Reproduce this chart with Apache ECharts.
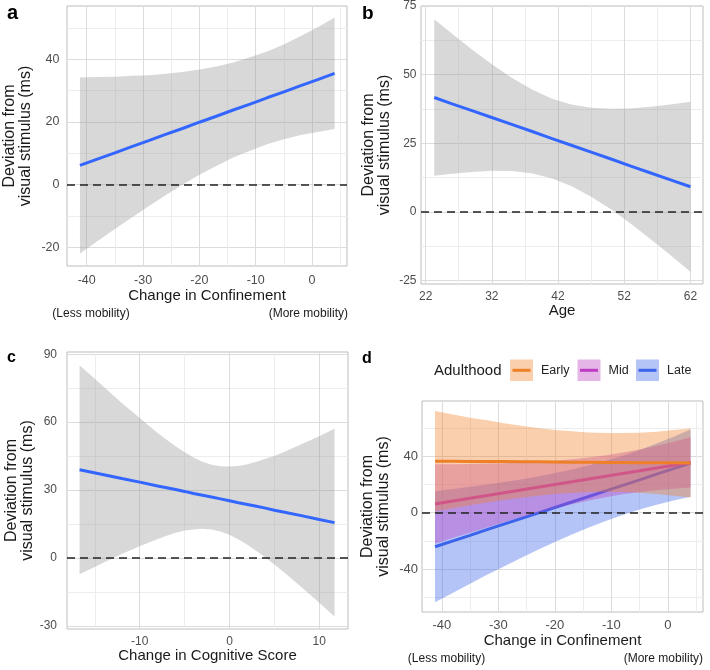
<!DOCTYPE html>
<html><head><meta charset="utf-8">
<script src="https://cdn.jsdelivr.net/npm/echarts@6/dist/echarts.min.js"></script>
<style>html,body{margin:0;padding:0;background:#fff}#c{width:710px;height:670px}</style>
</head><body><div id="c"></div>
<script>
// ---------- Panel a : Change in Confinement ----------
const aX      = [-41.2,-38,-35,-32,-29,-26,-23,-20,-17,-14,-11,-8,-5,-2,1,4];
const aFit    = [6.1,8.2,10.1,12.1,14.0,16.0,17.9,19.9,21.8,23.8,25.7,27.7,29.6,31.6,33.5,35.5];
const aUpper  = [34.2,34.3,34.4,34.7,34.9,35.4,35.9,36.7,37.7,39.0,40.6,42.5,44.7,47.4,50.2,53.3];
const aLower  = [-22.0,-17.9,-14.2,-10.5,-6.9,-3.4,-0.1,3.1,5.9,8.6,10.8,12.9,14.5,15.8,16.8,17.7];
const aXTicks = [-40,-30,-20,-10,0];
const aXMinor = [-35,-25,-15,-5,5];
const aYTicks = [-20,0,20,40];
const aYMinor = [-10,10,30,50];

// ---------- Panel b : Age ----------
const bX      = [23.3,26,29,32,35,38,41,44,47,50,53,56,59,62];
const bFit    = [41.7,39.4,36.9,34.4,31.9,29.4,26.8,24.3,21.8,19.3,16.7,14.2,11.7,9.2];
const bUpper  = [70.2,64.9,59.2,53.8,48.9,44.7,41.3,39.1,38.0,37.6,37.7,38.3,39.1,40.1];
const bLower  = [13.2,13.9,14.6,15.0,14.9,14.1,12.3,9.5,5.6,1.0,-4.3,-9.9,-15.7,-21.7];
const bXTicks = [22,32,42,52,62];
const bXMinor = [27,37,47,57];
const bYTicks = [-25,0,25,50,75];
const bYMinor = [-12.5,12.5,37.5,62.5];

// ---------- Panel c : Change in Cognitive Score ----------
const cX      = [-16.7,-14,-12,-10,-8,-7,-6,-5,-4,-3,-2,-1,0,1,2,3,4,5,6,8,10,11.7];
const cFit    = [39.0,36.8,35.1,33.5,31.8,31.0,30.2,29.4,28.5,27.7,26.9,26.1,25.3,24.4,23.6,22.8,22.0,21.1,20.3,18.7,17.0,15.6];
const cUpper  = [85.2,75.6,68.5,61.8,55.2,52.2,49.3,46.7,44.4,42.5,41.2,40.5,40.4,40.6,41.4,42.5,43.8,45.1,46.7,50.2,53.8,57.1];
const cLower  = [-7.2,-2.0,1.7,5.2,8.4,9.8,11.1,12.1,12.6,12.9,12.6,11.7,10.2,8.2,5.8,3.1,0.2,-2.9,-6.1,-12.8,-19.8,-25.9];
const cXTicks = [-10,0,10];
const cXMinor = [-15,-5,5];
const cYTicks = [-30,0,30,60,90];
const cYMinor = [-15,15,45,75];

// ---------- Panel d : by adulthood group ----------
const dX         = [-41.2,-38,-35,-32,-29,-26,-23,-20,-17,-14,-11,-8,-5,-2,1,4];
const earlyFit   = [36.4,36.3,36.2,36.2,36.1,36.0,35.9,35.8,35.7,35.6,35.5,35.4,35.3,35.2,35.2,35.1];
const earlyUpper = [71.9,69.5,67.2,65.3,63.3,61.5,59.9,58.5,57.5,56.7,56.3,56.3,56.6,57.3,58.4,59.6];
const earlyLower = [0.9,3.1,5.2,7.1,8.9,10.5,11.9,13.1,13.9,14.5,14.7,14.5,14.0,13.1,12.0,10.6];
const midFit     = [6.1,8.2,10.1,12.1,14.0,16.0,17.9,19.9,21.8,23.8,25.7,27.7,29.6,31.6,33.5,35.5];
const midUpper   = [34.2,34.3,34.4,34.7,34.9,35.4,35.9,36.7,37.7,39.0,40.6,42.5,44.7,47.4,50.2,53.3];
const midLower   = [-22.0,-17.9,-14.2,-10.5,-6.9,-3.4,-0.1,3.1,5.9,8.6,10.8,12.9,14.5,15.8,16.8,17.7];
const lateFit    = [-24.2,-20.0,-16.1,-12.1,-8.2,-4.3,-0.4,3.6,7.5,11.4,15.4,19.3,23.2,27.2,31.1,35.0];
const lateUpper  = [15.1,16.7,18.2,19.9,21.7,23.5,25.6,28.0,30.5,33.4,36.7,40.3,44.3,48.9,53.7,58.8];
const lateLower  = [-63.5,-56.7,-50.4,-44.1,-38.1,-32.1,-26.4,-20.8,-15.5,-10.6,-5.9,-1.7,2.1,5.5,8.5,11.2];
const dXTicks = [-40,-30,-20,-10,0];
const dXMinor = [-35,-25,-15,-5,5];
const dYTicks = [-40,0,40];
const dYMinor = [-60,-20,20,60];
const groupNames = ['Early','Mid','Late'];

const FONT = '"Liberation Sans", Arial, Helvetica, sans-serif';
const YTITLE = 'Deviation from\nvisual stimulus (ms)';
const BLUE = '#3366FF';
const GREY_FILL = 'rgba(153,153,153,0.38)';
const COL = {
  Early: {line:'#EE8028', fill:'rgba(238,128,40,0.38)'},
  Mid:   {line:'#BE3CC3', fill:'rgba(190,60,195,0.38)'},
  Late:  {line:'#3C64EB', fill:'rgba(60,100,235,0.38)'}
};

const grids = [], xAxes = [], yAxes = [], series = [];

function addPanel(g, p) {
  grids.push({left:p.left, top:p.top, width:p.width, height:p.height, show:true,
    borderColor:'#bdbdbd', borderWidth:1, backgroundColor:'transparent',
    containLabel:false, outerBoundsMode:'none'});
  xAxes.push({type:'value', gridIndex:g, min:p.xMin, max:p.xMax,
    axisLine:{show:false}, axisTick:{show:false, customValues:p.xTicks},
    axisLabel:{customValues:p.xTicks, color:'#4d4d4d', fontSize:p.tickFs, margin:p.xMargin, fontFamily:FONT},
    splitLine:{show:true, lineStyle:{color:'#dcdcdc', width:1}},
    name:p.xName, nameLocation:'middle', nameGap:p.xGap,
    nameTextStyle:{fontSize:15, color:'#1a1a1a', fontFamily:FONT}});
  xAxes.push({type:'value', gridIndex:g, min:p.xMin, max:p.xMax, position:'bottom',
    axisLine:{show:false}, axisTick:{show:false, customValues:p.xMinor},
    axisLabel:{show:false, customValues:p.xMinor},
    splitLine:{show:true, lineStyle:{color:'#ededed', width:1}}});
  yAxes.push({type:'value', gridIndex:g, min:p.yMin, max:p.yMax,
    axisLine:{show:false}, axisTick:{show:false, customValues:p.yTicks},
    axisLabel:{customValues:p.yTicks, color:'#4d4d4d', fontSize:p.tickFs, margin:p.yMargin, fontFamily:FONT},
    splitLine:{show:true, lineStyle:{color:'#dcdcdc', width:1}},
    name:YTITLE, nameLocation:'middle', nameGap:p.yGap,
    nameTextStyle:{fontSize:16, lineHeight:16, color:'#1a1a1a', fontFamily:FONT}});
  yAxes.push({type:'value', gridIndex:g, min:p.yMin, max:p.yMax, position:'left',
    axisLine:{show:false}, axisTick:{show:false, customValues:p.yMinor},
    axisLabel:{show:false, customValues:p.yMinor},
    splitLine:{show:true, lineStyle:{color:'#ededed', width:1}}});
}

function ribbon(g, xs, lo, hi, fill, z) {
  return {
    type:'custom', xAxisIndex:g*2, yAxisIndex:g*2, silent:true, z:z,
    data: xs.map((x,i)=>[x, lo[i], hi[i]]),
    encode:{x:0, y:[1,2]},
    renderItem: function(params, api) {
      if (params.dataIndex !== 0) return null;
      const pts = [];
      for (let i=0;i<xs.length;i++) pts.push(api.coord([xs[i], hi[i]]));
      for (let i=xs.length-1;i>=0;i--) pts.push(api.coord([xs[i], lo[i]]));
      return {type:'polygon', shape:{points:pts}, style:{fill:fill}};
    }
  };
}
function fitLine(g, xs, ys, color, withZero, z) {
  const s = {type:'line', xAxisIndex:g*2, yAxisIndex:g*2, silent:true, z:z,
    data: xs.map((x,i)=>[x, ys[i]]), symbol:'none', showSymbol:false,
    lineStyle:{color:color, width:3}};
  if (withZero) {
    s.markLine = {silent:true, z:20, symbol:['none','none'], label:{show:false},
      lineStyle:{color:'#222', width:1.6, type:[8,5]}, data:[{yAxis:0}], animation:false};
  }
  return s;
}

addPanel(0, {left:67, top:6, width:280, height:260, xMin:-43.5, xMax:6.2, yMin:-26, yMax:57,
  xTicks:aXTicks, xMinor:aXMinor, yTicks:aYTicks, yMinor:aYMinor, tickFs:12.5, xMargin:8, yMargin:7.5,
  xName:'Change in Confinement', xGap:20, yGap:33});
addPanel(1, {left:421, top:6, width:282, height:278, xMin:21.3, xMax:63.9, yMin:-26.2, yMax:75,
  xTicks:bXTicks, xMinor:bXMinor, yTicks:bYTicks, yMinor:bYMinor, tickFs:12, xMargin:6.5, yMargin:4.5,
  xName:'Age', xGap:19.5, yGap:28});
addPanel(2, {left:67, top:352, width:281, height:277, xMin:-18.1, xMax:13.2, yMin:-31.4, yMax:91,
  xTicks:cXTicks, xMinor:cXMinor, yTicks:cYTicks, yMinor:cYMinor, tickFs:12, xMargin:6.5, yMargin:10,
  xName:'Change in Cognitive Score', xGap:19, yGap:29});
addPanel(3, {left:422, top:401, width:281, height:211, xMin:-43.5, xMax:6.2, yMin:-70.4, yMax:79,
  xTicks:dXTicks, xMinor:dXMinor, yTicks:dYTicks, yMinor:dYMinor, tickFs:13, xMargin:7, yMargin:4,
  xName:'Change in Confinement', xGap:20, yGap:30.5});

series.push(ribbon(0, aX, aLower, aUpper, GREY_FILL, 2), fitLine(0, aX, aFit, BLUE, true, 3));
series.push(ribbon(1, bX, bLower, bUpper, GREY_FILL, 2), fitLine(1, bX, bFit, BLUE, true, 3));
series.push(ribbon(2, cX, cLower, cUpper, GREY_FILL, 2), fitLine(2, cX, cFit, BLUE, true, 3));
// drawn Late -> Mid -> Early, each ribbon followed by its line
series.push(ribbon(3, dX, lateLower, lateUpper, COL.Late.fill, 2), fitLine(3, dX, lateFit, COL.Late.line, false, 3));
series.push(ribbon(3, dX, midLower, midUpper, COL.Mid.fill, 4), fitLine(3, dX, midFit, COL.Mid.line, false, 5));
series.push(ribbon(3, dX, earlyLower, earlyUpper, COL.Early.fill, 6), fitLine(3, dX, earlyFit, COL.Early.line, true, 7));

function txt(t, x, y, opt) {
  return {type:'text', x:x, y:y, silent:true, style:Object.assign({text:t, fill:'#1a1a1a',
    font:'12px ' + FONT, textAlign:'left', textVerticalAlign:'middle'}, opt||{})};
}
const graphics = [
  txt('a', 7, 13.5, {font:'bold 20px ' + FONT, fill:'#000'}),
  txt('b', 362, 13.5, {font:'bold 19px ' + FONT, fill:'#000'}),
  txt('c', 7, 358, {font:'bold 16px ' + FONT, fill:'#000'}),
  txt('d', 362, 359, {font:'bold 16px ' + FONT, fill:'#000'}),
  txt('(Less mobility)', 91, 313.5, {textAlign:'center'}),
  txt('(More mobility)', 348, 313.5, {textAlign:'right'}),
  txt('(Less mobility)', 446.5, 659, {textAlign:'center'}),
  txt('(More mobility)', 703, 659, {textAlign:'right'}),
  txt('Adulthood', 434, 370.7, {font:'15px ' + FONT})
];
const keyX = [510, 577.5, 636];
const labX = [541, 608.5, 667];
groupNames.forEach((n, i) => {
  graphics.push({type:'rect', silent:true, shape:{x:keyX[i], y:359.5, width:23, height:21.5},
    style:{fill:COL[n].fill}});
  graphics.push({type:'line', silent:true, shape:{x1:keyX[i]+2.5, y1:370.3, x2:keyX[i]+20.5, y2:370.3},
    style:{stroke:COL[n].line, lineWidth:3}});
  graphics.push(txt(n, labX[i], 370.5, {font:'12.5px ' + FONT, fill:'#222'}));
});

const chart = echarts.init(document.getElementById('c'), null, {renderer:'canvas'});
chart.setOption({
  animation:false,
  backgroundColor:'#fff',
  textStyle:{fontFamily:FONT},
  grid:grids, xAxis:xAxes, yAxis:yAxes, series:series,
  graphic:graphics
});
</script></body></html>
